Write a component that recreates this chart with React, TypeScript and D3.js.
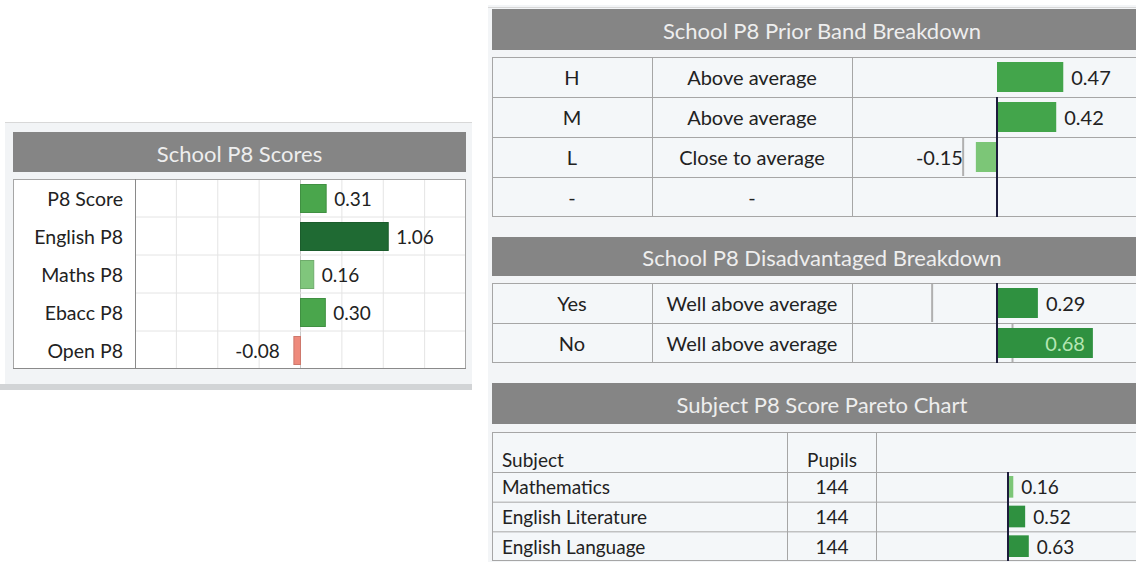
import React from 'react';
import * as d3 from 'd3';

// School P8 Scores
const scoreLabels = ['P8 Score', 'English P8', 'Maths P8', 'Ebacc P8', 'Open P8'];
const scoreValues = [0.31, 1.06, 0.16, 0.30, -0.08];
const scoreBands = ['Above average', 'Well above average', 'Close to average', 'Above average', 'Below average'];

// Prior band breakdown
const bandLabels = ['H', 'M', 'L', '-'];
const bandDescriptions = ['Above average', 'Above average', 'Close to average', '-'];
const bandValues: (number | null)[] = [0.47, 0.42, -0.15, null];
const bandMarkers: (number | null)[] = [null, null, -0.24, null];

// Disadvantaged breakdown
const disLabels = ['Yes', 'No'];
const disDescriptions = ['Well above average', 'Well above average'];
const disValues = [0.29, 0.68];
const disMarkers = [-0.46, 0.11];

// Pareto
const subjects = ['Mathematics', 'English Literature', 'English Language'];
const subjectPupils = [144, 144, 144];
const subjectValues = [0.16, 0.52, 0.63];

const FONT = 'Lato, "Open Sans", sans-serif';
const HEAD_BG = '#858585';
const HEAD_TXT = '#eeeeee';
const BORDER = '#a6a6a6';
const CELL_BG = '#f4f7f9';
const TXT = '#222';

const leftColor = d3.scaleOrdinal<string, string>()
  .domain(['Well above average', 'Above average', 'Close to average', 'Below average'])
  .range(['#1f6a33', '#4aa64c', '#80c67c', '#ee8a7c']);

const rightColor = d3.scaleOrdinal<string, string>()
  .domain(['Well above average', 'Above average', 'Close to average', '-'])
  .range(['#2f9140', '#43a54b', '#7cc677', '#ccc']);

const paretoColor = d3.scaleThreshold<number, string>()
  .domain([0.3])
  .range(['#7cc677', '#2f9140']);

function Header({ x, y, w, h, title }: { x: number; y: number; w: number; h: number; title: string }) {
  return (
    <g>
      <rect x={x} y={y} width={w} height={h} fill={HEAD_BG} />
      <text x={x + w / 2} y={y + h / 2 + 1} textAnchor="middle" dominantBaseline="central"
        fontSize={22} fill={HEAD_TXT} fontFamily={FONT}>{title}</text>
    </g>
  );
}

function ScoresPanel() {
  const x = d3.scaleLinear().domain([-2, 2]).range([135, 466]);
  const y = d3.scaleBand<string>().domain(scoreLabels).range([179, 369]);
  const bh = y.bandwidth();
  return (
    <g>
      <rect x={5} y={122} width={467} height={268} fill="#f2f4f6" />
      <line x1={5} x2={472} y1={122.5} y2={122.5} stroke="#d8d8d8" />
      <rect x={0} y={384} width={472} height={6} fill="#d2d4d6" />
      <Header x={13} y={132} w={453} h={40} title="School P8 Scores" />
      <rect x={13} y={179} width={453} height={190} fill="#fff" />
      {x.ticks(8).slice(1, -1).map(t => (
        <line key={t} x1={x(t)} x2={x(t)} y1={179} y2={369} stroke={t === 0 ? '#c8c8c8' : '#e4e4e4'} />
      ))}
      {scoreLabels.slice(1).map(l => (
        <line key={l} x1={135} x2={466} y1={y(l)!} y2={y(l)!} stroke="#e4e4e4" />
      ))}
      {scoreLabels.map((l, i) => {
        const v = scoreValues[i];
        const x0 = x(Math.min(0, v));
        const w = Math.abs(x(v) - x(0));
        const cy = y(l)! + bh / 2;
        const c = leftColor(scoreBands[i]);
        return (
          <g key={l}>
            <text x={123} y={cy} textAnchor="end" dominantBaseline="central" fontSize={19.5}
              fill={TXT} fontFamily={FONT}>{l}</text>
            <rect x={x0} y={y(l)! + 5.5} width={w} height={bh - 10} fill={c}
              stroke={d3.color(c)!.darker(0.4).toString()} strokeWidth={1} />
            <text x={v >= 0 ? x(v) + 8 : x(v) - 14} y={cy} textAnchor={v >= 0 ? 'start' : 'end'}
              dominantBaseline="central" fontSize={19} fill={TXT} fontFamily={FONT}>{v.toFixed(2)}</text>
          </g>
        );
      })}
      <rect x={13.5} y={179.5} width={452} height={189} fill="none" stroke={BORDER} />
      <line x1={135.5} x2={135.5} y1={179} y2={369} stroke="#8a8a8a" />
      <line x1={13} x2={466} y1={368.5} y2={368.5} stroke="#8a8a8a" />
    </g>
  );
}

const xRight = d3.scaleLinear().domain([-1, 2]).range([856, 1279]);

function BreakdownTable({ top, labels, descriptions, values, markers }:
  { top: number; labels: string[]; descriptions: string[]; values: (number | null)[]; markers: (number | null)[] }) {
  const y = d3.scaleBand<string>().domain(labels).range([top, top + labels.length * 40]);
  const bh = y.bandwidth();
  const bottom = top + labels.length * 40;
  return (
    <g>
      <rect x={492} y={top} width={660} height={bottom - top} fill={CELL_BG} />
      {labels.map((l, i) => {
        const v = values[i];
        const m = markers[i];
        const ry = y(l)!;
        const cy = ry + bh / 2;
        const inside = v !== null && v >= 0.6;
        return (
          <g key={l}>
            <text x={572} y={cy} textAnchor="middle" dominantBaseline="central" fontSize={20}
              fill={TXT} fontFamily={FONT}>{l}</text>
            <text x={752} y={cy} textAnchor="middle" dominantBaseline="central" fontSize={20}
              fill={TXT} fontFamily={FONT}>{descriptions[i]}</text>
            {m !== null && (
              <line x1={xRight(m)} x2={xRight(m)} y1={ry + 1} y2={ry + bh - 1} stroke="#b0b0b0" strokeWidth={2} />
            )}
            {v !== null && (
              <>
                <rect x={xRight(Math.min(0, v))} y={ry + 5} width={Math.abs(xRight(v) - xRight(0))}
                  height={bh - 10} fill={rightColor(descriptions[i])} />
                <text x={inside ? xRight(v) - 8 : v >= 0 ? xRight(v) + 8 : xRight(v) - 13} y={cy}
                  textAnchor={inside || v < 0 ? 'end' : 'start'} dominantBaseline="central" fontSize={20}
                  fill={inside ? '#b5e6b3' : TXT} fontFamily={FONT}>{v.toFixed(2)}</text>
              </>
            )}
          </g>
        );
      })}
      {labels.slice(1).map(l => (
        <line key={l} x1={492} x2={1140} y1={y(l)! + 0.5} y2={y(l)! + 0.5} stroke={BORDER} />
      ))}
      <line x1={492} x2={1140} y1={top + 0.5} y2={top + 0.5} stroke={BORDER} />
      <line x1={492} x2={1140} y1={bottom - 0.5} y2={bottom - 0.5} stroke={BORDER} />
      {[492.5, 652.5, 852.5].map(cx => (
        <line key={cx} x1={cx} x2={cx} y1={top} y2={bottom} stroke={BORDER} />
      ))}
      <line x1={xRight(0)} x2={xRight(0)} y1={top + (labels.length > 2 ? bh : 0)} y2={bottom}
        stroke="#1c1c3c" strokeWidth={2} />
    </g>
  );
}

function ParetoTable() {
  const top = 432;
  const headBottom = 472;
  const bottom = 561;
  const x = d3.scaleLinear().domain([-4, 8]).range([876, 1272]);
  const y = d3.scaleBand<string>().domain(subjects).range([headBottom, bottom]);
  const bh = y.bandwidth();
  return (
    <g>
      <rect x={492} y={top} width={660} height={bottom - top} fill={CELL_BG} />
      <text x={502} y={459} dominantBaseline="central" fontSize={19} fill={TXT} fontFamily={FONT}>Subject</text>
      <text x={832} y={459} textAnchor="middle" dominantBaseline="central" fontSize={19} fill={TXT}
        fontFamily={FONT}>Pupils</text>
      {subjects.map((s, i) => {
        const v = subjectValues[i];
        const ry = y(s)!;
        const cy = ry + bh / 2;
        return (
          <g key={s}>
            <text x={502} y={cy} dominantBaseline="central" fontSize={19} fill={TXT} fontFamily={FONT}>{s}</text>
            <text x={832} y={cy} textAnchor="middle" dominantBaseline="central" fontSize={19} fill={TXT}
              fontFamily={FONT}>{subjectPupils[i]}</text>
            <rect x={x(0)} y={ry + 4} width={x(v) - x(0)} height={bh - 8} fill={paretoColor(v)} />
            <text x={x(v) + 8} y={cy} dominantBaseline="central" fontSize={19} fill={TXT}
              fontFamily={FONT}>{v.toFixed(2)}</text>
          </g>
        );
      })}
      {[top + 0.5, headBottom + 0.5, ...subjects.slice(1).map(s => y(s)! + 0.5), bottom - 0.5].map(ly => (
        <line key={ly} x1={492} x2={1140} y1={ly} y2={ly} stroke={BORDER} />
      ))}
      {[492.5, 787.5, 876.5].map(cx => (
        <line key={cx} x1={cx} x2={cx} y1={top} y2={bottom} stroke={BORDER} />
      ))}
      <line x1={x(0)} x2={x(0)} y1={headBottom} y2={bottom} stroke="#1c1c3c" strokeWidth={2} />
    </g>
  );
}

export default function App() {
  return (
    <svg width={1136} height={562} style={{ position: 'absolute', left: 0, top: 0, background: '#fff' }}>
      <ScoresPanel />
      <rect x={488} y={5} width={660} height={557} fill="#f3f5f7" />
      <line x1={488} x2={1136} y1={7.5} y2={7.5} stroke="#d8d8d8" />
      <Header x={492} y={9} w={660} h={41} title="School P8 Prior Band Breakdown" />
      <BreakdownTable top={57} labels={bandLabels} descriptions={bandDescriptions}
        values={bandValues} markers={bandMarkers} />
      <Header x={492} y={237} w={660} h={39} title="School P8 Disadvantaged Breakdown" />
      <BreakdownTable top={283} labels={disLabels} descriptions={disDescriptions}
        values={disValues} markers={disMarkers} />
      <Header x={492} y={383} w={660} h={41} title="Subject P8 Score Pareto Chart" />
      <ParetoTable />
    </svg>
  );
}
